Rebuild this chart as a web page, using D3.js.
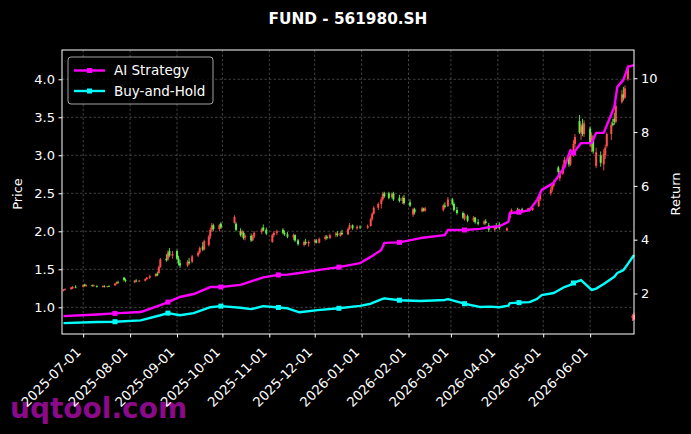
<!DOCTYPE html>
<html>
<head>
<meta charset="utf-8">
<script src="https://cdn.jsdelivr.net/npm/d3@7"></script>
<style>
  body { margin: 0; background: #000; }
  text { font-family: "DejaVu Sans", sans-serif; fill: #fff; }
</style>
</head>
<body>
<svg width="691" height="434"></svg>
<script>
const width = 691;
const height = 434;

// Daily candles: date, open, high, low, close
const candles = [
  ["2025-06-18",1.22,1.24,1.21,1.23],["2025-06-19",1.23,1.25,1.22,1.24],["2025-06-23",1.24,1.27,1.23,1.26],
  ["2025-06-24",1.25,1.28,1.24,1.27],["2025-06-26",1.27,1.29,1.25,1.26],["2025-07-01",1.27,1.30,1.26,1.29],
  ["2025-07-02",1.30,1.31,1.27,1.28],["2025-07-03",1.28,1.30,1.27,1.29],["2025-07-07",1.29,1.30,1.27,1.28],
  ["2025-07-08",1.28,1.30,1.27,1.29],["2025-07-10",1.28,1.29,1.26,1.27],["2025-07-14",1.27,1.29,1.26,1.28],
  ["2025-07-15",1.28,1.29,1.26,1.27],["2025-07-17",1.27,1.28,1.26,1.28],["2025-07-18",1.28,1.29,1.27,1.27],
  ["2025-07-22",1.29,1.32,1.28,1.31],["2025-07-23",1.31,1.34,1.30,1.33],["2025-07-24",1.33,1.35,1.31,1.32],
  ["2025-07-28",1.39,1.40,1.34,1.36],["2025-07-29",1.36,1.38,1.33,1.35],["2025-08-04",1.33,1.36,1.32,1.35],
  ["2025-08-05",1.35,1.37,1.33,1.34],["2025-08-07",1.34,1.36,1.33,1.35],["2025-08-11",1.35,1.38,1.34,1.37],
  ["2025-08-12",1.37,1.40,1.36,1.39],["2025-08-14",1.39,1.43,1.37,1.41],["2025-08-18",1.41,1.45,1.40,1.44],
  ["2025-08-19",1.44,1.47,1.41,1.42],["2025-08-20",1.45,1.55,1.44,1.53],["2025-08-21",1.53,1.65,1.52,1.63],
  ["2025-08-25",1.64,1.70,1.60,1.62],["2025-08-26",1.63,1.75,1.61,1.72],["2025-08-27",1.74,1.78,1.66,1.68],
  ["2025-08-29",1.68,1.74,1.64,1.70],["2025-09-01",1.74,1.76,1.62,1.64],["2025-09-02",1.64,1.68,1.55,1.58],
  ["2025-09-03",1.58,1.62,1.52,1.55],["2025-09-08",1.55,1.62,1.53,1.60],["2025-09-09",1.60,1.65,1.56,1.58],
  ["2025-09-11",1.60,1.69,1.58,1.67],["2025-09-15",1.68,1.74,1.66,1.72],["2025-09-16",1.72,1.80,1.70,1.78],
  ["2025-09-18",1.80,1.86,1.74,1.76],["2025-09-19",1.76,1.89,1.75,1.87],["2025-09-22",1.82,1.95,1.80,1.93],
  ["2025-09-23",1.93,2.05,1.90,2.02],["2025-09-24",2.02,2.11,1.99,2.08],["2025-09-25",2.08,2.10,2.00,2.03],
  ["2025-09-29",2.03,2.10,2.00,2.08],["2025-09-30",2.10,2.12,2.03,2.05],["2025-10-09",2.11,2.21,2.10,2.19],
  ["2025-10-10",2.10,2.12,2.00,2.02],["2025-10-13",2.00,2.04,1.93,1.95],["2025-10-14",1.96,2.02,1.92,2.00],
  ["2025-10-15",1.98,2.00,1.89,1.91],["2025-10-16",1.92,1.96,1.88,1.94],["2025-10-20",1.94,1.97,1.86,1.88],
  ["2025-10-21",1.88,1.95,1.87,1.93],["2025-10-22",1.93,2.00,1.91,1.98],["2025-10-27",1.99,2.05,1.96,2.03],
  ["2025-10-28",2.05,2.09,2.00,2.01],["2025-10-30",2.02,2.05,1.95,1.97],["2025-11-03",1.86,1.97,1.85,1.95],
  ["2025-11-04",1.95,2.00,1.92,1.98],["2025-11-06",1.98,2.02,1.95,2.00],["2025-11-10",2.02,2.04,1.96,1.98],
  ["2025-11-11",1.98,2.01,1.94,1.96],["2025-11-13",1.96,1.99,1.91,1.93],["2025-11-17",1.92,1.97,1.88,1.95],
  ["2025-11-18",1.95,1.96,1.86,1.88],["2025-11-20",1.88,1.90,1.81,1.83],["2025-11-24",1.82,1.88,1.80,1.86],
  ["2025-11-25",1.86,1.90,1.82,1.84],["2025-11-27",1.84,1.88,1.80,1.86],["2025-12-01",1.86,1.90,1.84,1.88],
  ["2025-12-02",1.88,1.90,1.84,1.85],["2025-12-04",1.85,1.92,1.84,1.90],["2025-12-08",1.90,1.95,1.88,1.93],
  ["2025-12-09",1.93,1.95,1.89,1.91],["2025-12-11",1.91,1.97,1.90,1.95],["2025-12-15",1.95,1.99,1.92,1.97],
  ["2025-12-16",1.97,2.00,1.93,1.95],["2025-12-18",1.94,2.00,1.93,1.98],["2025-12-19",1.98,2.02,1.95,1.96],
  ["2025-12-23",1.96,2.05,1.95,2.03],["2025-12-24",2.03,2.11,2.02,2.08],["2025-12-26",2.08,2.09,2.02,2.04],
  ["2025-12-29",2.04,2.08,2.02,2.06],["2025-12-31",2.06,2.08,2.03,2.05],["2026-01-05",2.05,2.09,2.03,2.07],
  ["2026-01-07",2.07,2.18,2.06,2.16],["2026-01-08",2.16,2.25,2.14,2.23],["2026-01-09",2.23,2.33,2.22,2.31],
  ["2026-01-12",2.31,2.38,2.28,2.36],["2026-01-14",2.36,2.45,2.30,2.42],["2026-01-15",2.42,2.52,2.40,2.49],
  ["2026-01-16",2.50,2.52,2.44,2.46],["2026-01-19",2.50,2.52,2.42,2.44],["2026-01-21",2.45,2.51,2.43,2.49],
  ["2026-01-22",2.50,2.52,2.40,2.42],["2026-01-26",2.44,2.48,2.38,2.40],["2026-01-28",2.40,2.46,2.36,2.44],
  ["2026-01-29",2.44,2.48,2.35,2.37],["2026-02-02",2.38,2.42,2.32,2.34],["2026-02-04",2.22,2.31,2.19,2.29],
  ["2026-02-05",2.29,2.31,2.22,2.25],["2026-02-10",2.26,2.32,2.25,2.30],["2026-02-11",2.30,2.31,2.26,2.27],
  ["2026-02-12",2.27,2.32,2.26,2.30],["2026-02-24",2.28,2.36,2.26,2.34],["2026-02-25",2.34,2.38,2.30,2.32],
  ["2026-02-27",2.33,2.45,2.32,2.42],["2026-03-02",2.42,2.44,2.34,2.36],["2026-03-03",2.36,2.38,2.26,2.28],
  ["2026-03-05",2.28,2.32,2.22,2.24],["2026-03-09",2.24,2.26,2.16,2.18],["2026-03-10",2.16,2.24,2.14,2.22],
  ["2026-03-12",2.20,2.22,2.12,2.14],["2026-03-16",2.14,2.20,2.12,2.18],["2026-03-17",2.18,2.19,2.10,2.12],
  ["2026-03-19",2.12,2.16,2.08,2.10],["2026-03-23",2.10,2.15,2.08,2.13],["2026-03-24",2.13,2.16,2.09,2.11],
  ["2026-03-26",2.08,2.11,1.99,2.02],["2026-03-30",2.02,2.08,2.00,2.06],["2026-03-31",2.06,2.11,2.03,2.04],
  ["2026-04-02",2.09,2.12,2.02,2.04],["2026-04-07",2.01,2.05,2.00,2.04],["2026-04-09",2.18,2.26,2.16,2.24],
  ["2026-04-10",2.24,2.30,2.22,2.28],["2026-04-14",2.28,2.31,2.24,2.26],["2026-04-15",2.26,2.30,2.25,2.29],
  ["2026-04-17",2.29,2.31,2.25,2.27],["2026-04-21",2.27,2.31,2.26,2.30],["2026-04-22",2.30,2.31,2.26,2.28],
  ["2026-04-24",2.28,2.32,2.27,2.31],["2026-04-28",2.33,2.45,2.32,2.42],["2026-04-29",2.42,2.52,2.40,2.50],
  ["2026-05-06",2.50,2.58,2.47,2.55],["2026-05-07",2.55,2.62,2.52,2.60],["2026-05-08",2.60,2.68,2.58,2.62],
  ["2026-05-11",2.84,2.86,2.74,2.78],["2026-05-12",2.70,2.80,2.66,2.76],["2026-05-14",2.76,2.88,2.74,2.85],
  ["2026-05-15",2.85,2.98,2.83,2.94],["2026-05-18",2.98,3.00,2.85,2.88],["2026-05-19",2.88,3.02,2.86,2.99],
  ["2026-05-21",3.00,3.20,2.98,3.15],["2026-05-22",3.15,3.28,3.10,3.24],["2026-05-25",3.45,3.53,3.28,3.30],
  ["2026-05-26",3.30,3.42,3.20,3.38],["2026-05-27",3.40,3.48,3.25,3.28],["2026-05-28",3.28,3.46,3.24,3.42],
  ["2026-06-01",3.35,3.38,3.12,3.16],["2026-06-02",3.10,3.30,3.04,3.26],["2026-06-03",3.22,3.26,3.02,3.05],
  ["2026-06-05",2.86,3.10,2.83,3.04],["2026-06-08",3.00,3.05,2.85,2.90],["2026-06-10",2.88,3.08,2.80,3.02],
  ["2026-06-11",3.00,3.14,2.95,3.10],["2026-06-12",3.12,3.30,3.10,3.28],["2026-06-15",3.28,3.44,3.20,3.40],
  ["2026-06-16",3.42,3.48,3.38,3.40],["2026-06-17",3.48,3.56,3.40,3.44],["2026-06-18",3.44,3.70,3.42,3.65],
  ["2026-06-22",3.70,3.86,3.68,3.80],["2026-06-23",3.80,3.90,3.72,3.76],["2026-06-24",3.76,3.92,3.74,3.88],
  ["2026-06-26",4.00,4.19,3.98,4.14],["2026-06-29",0.86,0.91,0.82,0.89],["2026-06-30",0.84,0.93,0.83,0.90]
];

// Cumulative return curves (right axis)
const lineDates = [
  "2025-06-18","2025-07-10","2025-07-22","2025-08-08","2025-08-21","2025-08-26","2025-09-03","2025-09-12",
  "2025-09-23","2025-09-30","2025-10-13","2025-10-20","2025-10-28","2025-11-07","2025-11-13","2025-11-21",
  "2025-12-03","2025-12-17","2025-12-31","2026-01-07","2026-01-14","2026-01-16","2026-01-26","2026-02-09",
  "2026-02-25","2026-02-27","2026-03-10","2026-03-20","2026-03-27","2026-04-02","2026-04-08","2026-04-09",
  "2026-04-15","2026-04-22","2026-04-27","2026-04-30","2026-05-08","2026-05-15","2026-05-19","2026-05-21",
  "2026-05-26","2026-06-02","2026-06-05","2026-06-10","2026-06-17","2026-06-19","2026-06-23","2026-06-26",
  "2026-06-30"
];
const aiReturn = [
  1.16,1.22,1.26,1.31,1.57,1.68,1.87,1.98,
  2.24,2.24,2.32,2.45,2.60,2.69,2.70,2.76,
  2.87,2.98,3.13,3.36,3.62,3.88,3.90,4.06,
  4.17,4.36,4.36,4.40,4.47,4.50,4.66,4.99,
  5.02,5.10,5.48,5.85,6.11,6.70,7.33,7.22,
  7.59,7.59,7.97,7.97,8.93,9.68,9.94,10.42,
  10.49
];
const bhReturn = [
  0.90,0.94,0.95,1.00,1.19,1.27,1.19,1.27,
  1.49,1.53,1.47,1.42,1.53,1.48,1.45,1.30,
  1.38,1.45,1.54,1.62,1.78,1.82,1.75,1.72,
  1.76,1.79,1.62,1.50,1.51,1.49,1.55,1.64,
  1.66,1.68,1.80,1.94,2.02,2.24,2.32,2.39,
  2.50,2.13,2.18,2.35,2.62,2.76,2.87,3.10,
  3.43
];
const markerIdx = [2, 5, 9, 13, 17, 22, 26, 32, 39];

const priceTicks = [1.0, 1.5, 2.0, 2.5, 3.0, 3.5, 4.0];
const returnTicks = [2, 4, 6, 8, 10];

const series = [
  { name: "AI Strategy", values: aiReturn, color: "#ff00ff" },
  { name: "Buy-and-Hold", values: bhReturn, color: "#00ffff" }
];

const plot = { left: 62, right: 634, top: 50, bottom: 334 };
const parse = d3.timeParse("%Y-%m-%d");

const svg = d3.select("svg");
svg.append("rect").attr("width", width).attr("height", height).attr("fill", "#000");

// Watermark sits underneath everything else
svg.append("text")
  .attr("x", 10).attr("y", 418)
  .style("font-size", "28px").style("font-weight", "bold")
  .style("fill", "#8a0a8a")
  .text("uqtool.com");

const x = d3.scaleTime()
  .domain([parse("2025-06-17"), parse("2026-06-30")])
  .range([plot.left, plot.right]);
const yPrice = d3.scaleLinear().domain([0.649, 4.385]).range([plot.bottom, plot.top]);
const yRet = d3.scaleLinear().domain([0.494, 11.05]).range([plot.bottom, plot.top]);

const monthTicks = d3.timeMonth.range(parse("2025-07-01"), parse("2026-06-02"));

// Grid
const grid = svg.append("g").attr("stroke", "#5a5a5a").attr("stroke-width", 0.7)
  .attr("stroke-dasharray", "2.5,2");
grid.selectAll(".gx").data(monthTicks).enter().append("line")
  .attr("x1", d => x(d)).attr("x2", d => x(d))
  .attr("y1", plot.top).attr("y2", plot.bottom);
grid.selectAll(".gy").data(priceTicks).enter().append("line")
  .attr("x1", plot.left).attr("x2", plot.right)
  .attr("y1", d => yPrice(d)).attr("y2", d => yPrice(d));

// Candles
const data = candles.map(d => ({ date: parse(d[0]), o: d[1], h: d[2], l: d[3], c: d[4] }));
const candleColor = d => d.c >= d.o ? "#ff4d4d" : "#62f04a";
const cg = svg.append("g");
cg.selectAll("line").data(data).enter().append("line")
  .attr("x1", d => x(d.date)).attr("x2", d => x(d.date))
  .attr("y1", d => yPrice(d.h)).attr("y2", d => yPrice(d.l))
  .attr("stroke", candleColor).attr("stroke-width", 0.9);
cg.selectAll("rect").data(data).enter().append("rect")
  .attr("x", d => x(d.date) - 1).attr("width", 2)
  .attr("y", d => yPrice(Math.max(d.o, d.c)))
  .attr("height", d => Math.max(0.6, Math.abs(yPrice(d.o) - yPrice(d.c))))
  .attr("fill", candleColor);

// Return lines
const dates = lineDates.map(parse);
const line = d3.line().x((d, i) => x(dates[i])).y(d => yRet(d));
series.forEach(s => {
  svg.append("path").datum(s.values)
    .attr("d", line).attr("fill", "none")
    .attr("stroke", s.color).attr("stroke-width", 2.4)
    .attr("stroke-linejoin", "round");
  svg.append("g").selectAll("rect").data(markerIdx).enter().append("rect")
    .attr("x", i => x(dates[i]) - 2.5).attr("y", i => yRet(s.values[i]) - 2.5)
    .attr("width", 5).attr("height", 5).attr("fill", s.color);
});

// Frame
svg.append("rect")
  .attr("x", plot.left).attr("y", plot.top)
  .attr("width", plot.right - plot.left).attr("height", plot.bottom - plot.top)
  .attr("fill", "none").attr("stroke", "#fff").attr("stroke-width", 1);

// Axes
const styleAxis = g => {
  g.select(".domain").remove();
  g.selectAll(".tick line").attr("stroke", "#fff");
  g.selectAll(".tick text").style("font-size", "13px").attr("fill", "#fff");
};

svg.append("g").attr("transform", `translate(${plot.left},0)`)
  .call(d3.axisLeft(yPrice).tickValues(priceTicks).tickFormat(d3.format(".1f")).tickSize(3.5).tickPadding(3.5))
  .call(styleAxis);

svg.append("g").attr("transform", `translate(${plot.right},0)`)
  .call(d3.axisRight(yRet).tickValues(returnTicks).tickSize(3.5).tickPadding(3.5))
  .call(styleAxis);

const xa = svg.append("g").attr("transform", `translate(0,${plot.bottom})`)
  .call(d3.axisBottom(x).tickValues(monthTicks).tickFormat(d3.timeFormat("%Y-%m-%d")).tickSize(3.5))
  .call(styleAxis);
xa.selectAll(".tick text")
  .attr("y", 0).attr("dy", 0)
  .attr("text-anchor", "end")
  .style("font-size", "13.3px")
  .attr("transform", "translate(-2,19) rotate(-45)");

// Axis labels
svg.append("text").attr("transform", "translate(22,194) rotate(-90)")
  .attr("text-anchor", "middle").style("font-size", "13px").text("Price");
svg.append("text").attr("transform", "translate(680,194) rotate(-90)")
  .attr("text-anchor", "middle").style("font-size", "13px").text("Return");

// Title
svg.append("text").attr("x", 348).attr("y", 24)
  .attr("text-anchor", "middle").style("font-size", "15.3px").style("font-weight", "bold")
  .text("FUND - 561980.SH");

// Legend
const lg = svg.append("g").attr("transform", "translate(68,57)");
lg.append("rect").attr("width", 145).attr("height", 47).attr("rx", 3)
  .attr("fill", "#000").attr("fill-opacity", 0.8)
  .attr("stroke", "#cccccc").attr("stroke-width", 0.8);
series.forEach((s, i) => {
  const yy = 13.5 + i * 20.5;
  lg.append("line").attr("x1", 6).attr("x2", 37).attr("y1", yy).attr("y2", yy)
    .attr("stroke", s.color).attr("stroke-width", 2.4);
  lg.append("rect").attr("x", 19).attr("y", yy - 2.5).attr("width", 5).attr("height", 5)
    .attr("fill", s.color);
  lg.append("text").attr("x", 46).attr("y", yy + 4.5)
    .style("font-size", "13.5px").text(s.name);
});
</script>
</body>
</html>
